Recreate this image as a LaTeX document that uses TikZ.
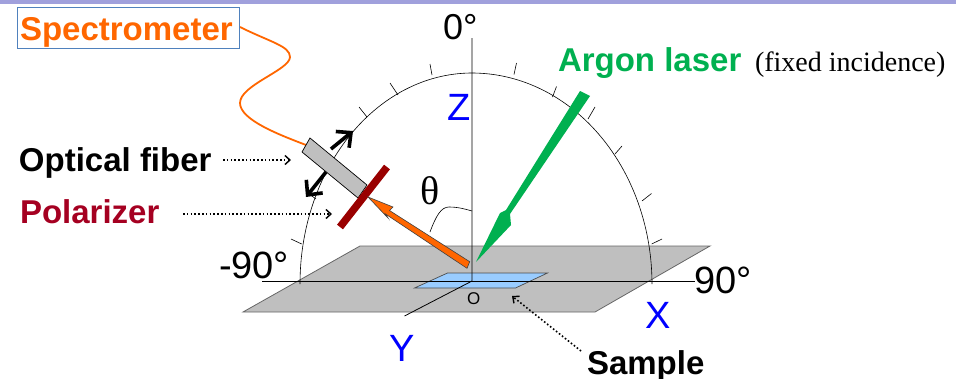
\documentclass[tikz,border=0pt]{standalone}
\usepackage{fontspec}
\setmainfont{Liberation Sans}
\newfontfamily\serifface{Liberation Serif}
\usetikzlibrary{arrows.meta}
\definecolor{bandc}{HTML}{A0A0DC}
\definecolor{orangec}{HTML}{FF6600}
\definecolor{greenc}{HTML}{00B050}
\definecolor{polc}{HTML}{A50021}
\definecolor{polbar}{HTML}{990000}
\definecolor{planec}{HTML}{BFBFBF}
\definecolor{samplec}{HTML}{99CCFF}
\definecolor{boxc}{HTML}{4F81BD}
\definecolor{bluec}{HTML}{0000FF}
\tikzset{
  lbl/.style={anchor=base west,inner sep=0pt,outer sep=0pt},
  boldlbl/.style={lbl,font=\fontsize{33}{33}\selectfont\bfseries},
  biglbl/.style={lbl,font=\fontsize{38}{38}\selectfont},
  axisline/.style={draw=black,line width=0.8pt},
  tickline/.style={draw=black,line width=0.6pt},
  dotarrow/.style={draw=black,line width=1.6pt,dash pattern=on 1.6pt off 2.2pt,-{Straight Barb[length=5pt,width=9pt,line width=1.4pt]}},
  movearrow/.style={draw=black,line width=3.6pt,-{Straight Barb[length=11pt,width=21pt,line width=3.6pt]}},
  fibercurve/.style={draw=orangec,line width=1.8pt}
}
\begin{document}
\begin{tikzpicture}[x=1pt,y=-1pt]
\useasboundingbox (0,0) rectangle (956,378);
\fill[bandc] (0,0) rectangle (956,4);
% plane and sample
\draw[draw=black!60,fill=planec,line width=0.8pt] (360,246) -- (710,246) -- (595,312) -- (243,312) -- cycle;
\draw[draw=black!70,fill=samplec,line width=0.7pt] (447.5,273) -- (547.5,273) -- (515.5,288) -- (414.5,288) -- cycle;
% axes
\coordinate (origin) at (472,281);
\coordinate (xneg) at (262,281);
\coordinate (xpos) at (695,281);
\coordinate (ztop) at (472,38);
\coordinate (yend) at (404.5,316);
\draw[axisline] (xneg) -- (xpos);
\draw[axisline] (ztop) -- (origin) -- (yend);
% graduated arc
\draw[tickline] plot[domain=0:90,samples=80] ({472+180*cos(\x)},{284-211*sin(\x)});
\draw[tickline] plot[domain=90:180,samples=80] ({472+172*cos(\x)},{284-211*sin(\x)});
\foreach \a/\b/\c/\d in {514/74.5/516.5/63, 552.5/97/556.5/86.5, 588/119/595/107, 615/154/622/146, 642/201/651.5/193.5, 651.7/244/662/239,
  432/75/430/64, 398/95/390/83, 367/117/359/107, 316/199/308/193, 301.7/244/291/239}
  \draw[tickline] (\a,\b) -- (\c,\d);
% theta arc
\draw[tickline] (430,232) .. controls (436,216) and (441,207) .. (449,207) .. controls (458,207) and (465,209) .. (472,211);
% fibre
\coordinate (specout) at (240,27);
\coordinate (fibertop) at (306,145);
\draw[fibercurve] (specout) .. controls (270,42) and (290,46) .. (290,57) .. controls (290,70) and (240,85) .. (240,103) .. controls (240,120) and (280,135) .. (fibertop);
% movement arrows
\coordinate (upstart) at (331,149);
\coordinate (uptip) at (353,131);
\coordinate (downstart) at (326,172);
\coordinate (downtip) at (306,197);
\draw[movearrow] (upstart) -- (uptip);
\draw[movearrow] (downstart) -- (downtip);
% optical fibre holder
\draw[draw=black,fill=planec,line width=0.7pt] (310,138) -- (302,152) -- (358,198) -- (367,185) -- cycle;
% polarizer
\coordinate (polA) at (387,167);
\coordinate (polB) at (340,227);
\draw[draw=polbar,line width=7.5pt] (polA) -- (polB);
% collected light arrow
\draw[draw=black!75,fill=orangec,line width=0.6pt] (368,197) -- (393,207) -- (389.5,210.5) -- (469.7,261.7) -- (467,268.3) -- (385.5,214) -- (388,218) -- cycle;
% laser
\fill[greenc] (590,96) -- (510,214) -- (511,225) -- (476,262) -- (500,213) -- (506,210) -- (580,91) -- cycle;
% label boxes and texts
\node[draw=boxc,line width=0.8pt,minimum width=222pt,minimum height=41pt,inner sep=0pt,anchor=north west] (specbox) at (17,7) {};
\node[boldlbl,text=orangec] (spec) at (20,40) {Spectrometer};
\node[boldlbl,text=black] (ofiber) at (19,171) {Optical fiber};
\node[boldlbl,text=polc] (polar) at (20,223) {Polarizer};
\node[boldlbl,text=greenc] (argon) at (558,71) {Argon laser};
\node[lbl,font=\serifface\fontsize{28}{28}\selectfont] (fixed) at (755,71) {(fixed incidence)};
\node[boldlbl,text=black] (sample) at (587,374) {Sample};
\node[lbl,font=\fontsize{36}{36}\selectfont] (zero) at (443,39) {0°};
\node[biglbl,text=bluec] (zlab) at (447,120) {Z};
\node[lbl,font=\serifface\fontsize{40}{40}\selectfont] (theta) at (420,204) {θ};
\node[biglbl] (mninety) at (219,278) {-90°};
\node[biglbl] (pninety) at (694,293) {90°};
\node[biglbl,text=bluec] (xlab) at (645,328) {X};
\node[biglbl,text=bluec] (ylab) at (389,361) {Y};
\node[lbl,font=\fontsize{17}{17}\selectfont] (olab) at (467,304) {O};
% pointers
\coordinate (fiberptr) at (291,160);
\coordinate (polptr) at (332,214);
\coordinate (sampleptr) at (512,296);
\draw[dotarrow] (223,160) -- (fiberptr);
\draw[dotarrow] (183,214) -- (polptr);
\draw[dotarrow] (581,351) -- (sampleptr);
\end{tikzpicture}
\end{document}
